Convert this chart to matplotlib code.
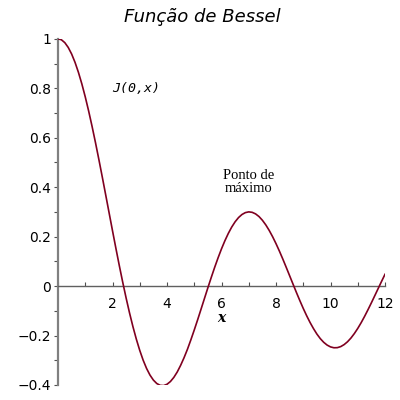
import matplotlib
matplotlib.use("Agg")
import matplotlib.pyplot as plt
from matplotlib.ticker import MultipleLocator, FuncFormatter

# Values (J(0,x) curve), step 0.125
x_vals = [i * 0.125 for i in range(97)]
y_vals = [1.0, 0.9961, 0.9844, 0.9651, 0.9385, 0.9047, 0.8642, 0.8176,
          0.7652, 0.7078, 0.6459, 0.5804, 0.5118, 0.4411, 0.3690, 0.2964,
          0.2239, 0.1525, 0.0827, 0.0156, -0.0484, -0.1085, -0.1641, -0.2148,
          -0.2601, -0.2997, -0.3330, -0.3598, -0.3801, -0.3940, -0.4014, -0.4024,
          -0.3971, -0.3860, -0.3693, -0.3475, -0.3205, -0.2898, -0.2556, -0.2176,
          -0.1776, -0.1360, -0.0931, -0.0499, -0.0068, 0.0353, 0.0760, 0.1145,
          0.1506, 0.1835, 0.2130, 0.2387, 0.2601, 0.2771, 0.2894, 0.2971,
          0.3001, 0.2983, 0.2920, 0.2813, 0.2663, 0.2475, 0.2252, 0.1998,
          0.1717, 0.1414, 0.1093, 0.0759, 0.0419, 0.0078, -0.0260, -0.0588,
          -0.0903, -0.1199, -0.1472, -0.1718, -0.1939, -0.2124, -0.2273, -0.2385,
          -0.2459, -0.2494, -0.2490, -0.2447, -0.2366, -0.2251, -0.2101, -0.1920,
          -0.1712, -0.1480, -0.1227, -0.0957, -0.0677, -0.0388, -0.0097, 0.0193,
          0.0477]

x_ticks = [2, 4, 6, 8, 10, 12]
y_ticks = [-0.4, -0.2, 0, 0.2, 0.4, 0.6, 0.8, 1.0]

title_text = "Função de Bessel"
curve_label = "J(0,x)"
note_text = "Ponto de\nmáximo"
xlabel_text = "x"

fig = plt.figure(figsize=(4, 4), dpi=100)
ax = fig.add_axes([0.145, 0.0375, 0.8175, 0.8655])
ax.plot(x_vals, y_vals, color="#800020", lw=1.2, zorder=3,
        solid_joinstyle="round")
ax.set_xlim(0, 12)
ax.set_ylim(-0.4, 1.0)

for s in ("top", "right"):
    ax.spines[s].set_visible(False)
ax.spines["left"].set_position(("data", 0))
ax.spines["bottom"].set_position(("data", 0))
ax.spines["left"].set_color("#808080")
ax.spines["left"].set_linewidth(1.6)
ax.spines["bottom"].set_color("#606060")
ax.spines["bottom"].set_linewidth(1.0)

ax.set_xticks(x_ticks)
ax.set_yticks(y_ticks)
ax.xaxis.set_minor_locator(MultipleLocator(1))
ax.yaxis.set_minor_locator(MultipleLocator(0.1))

fmt = FuncFormatter(lambda v, p: ("%g" % round(v, 3)).replace("-", "\u2212"))
ax.xaxis.set_major_formatter(fmt)
ax.yaxis.set_major_formatter(fmt)

ax.tick_params(axis="x", which="both", direction="in", length=3, width=0.8,
               color="#505050", labelsize=10, pad=8)
ax.tick_params(axis="y", which="both", direction="out", length=3, width=0.8,
               color="#505050", labelsize=10, pad=2)

fig.text(0.505, 0.957, title_text, fontsize=13, style="italic",
         family="DejaVu Sans", ha="center", va="center")
ax.text(2.0, 0.8, curve_label, fontsize=9.5, style="oblique",
        family="DejaVu Sans Mono", ha="left", va="center")
ax.text(7.0, 0.42, note_text, fontsize=10.5, family="Liberation Serif",
        ha="center", va="center", linespacing=0.95)
ax.text(6.0, -0.128, xlabel_text, fontsize=10, fontweight="bold",
        style="italic", family="DejaVu Serif", ha="center", va="center")

fig.savefig("out.png", dpi=100)
